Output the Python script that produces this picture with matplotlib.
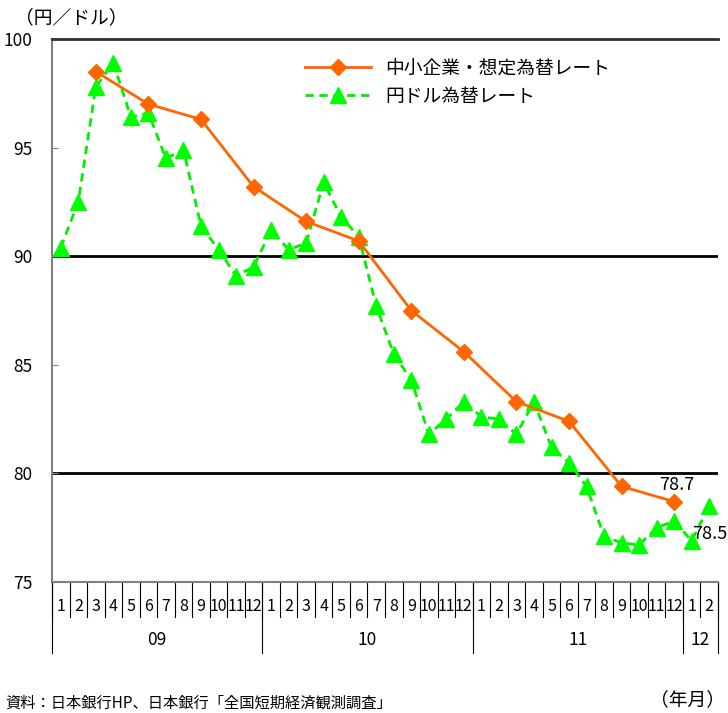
import matplotlib
matplotlib.use("Agg")
import matplotlib.pyplot as plt
import matplotlib.transforms as mtransforms
import numpy as np

plt.rcParams['font.family'] = ['Noto Sans CJK JP', 'DejaVu Sans']

# monthly yen/dollar rate, 2009/1 - 2012/2
usdjpy = [90.4, 92.5, 97.8, 98.9, 96.4, 96.6, 94.5, 94.9, 91.4, 90.3, 89.1, 89.5,
          91.2, 90.3, 90.6, 93.4, 91.8, 90.9, 87.7, 85.5, 84.3, 81.8, 82.5, 83.3,
          82.6, 82.5, 81.8, 83.3, 81.2, 80.5, 79.4, 77.1, 76.8, 76.7, 77.5, 77.8,
          76.9, 78.5]
# SME assumed rate (Tankan), quarterly survey months
tankan_idx = [2, 5, 8, 11, 14, 17, 20, 23, 26, 29, 32, 35]
tankan = [98.5, 97.0, 96.3, 93.2, 91.6, 90.7, 87.5, 85.6, 83.3, 82.4, 79.4, 78.7]

months = [str(m) for m in range(1, 13)] * 3 + ['1', '2']
years = ['09', '10', '11', '12']
year_start = [0, 12, 24, 36]
year_end = [12, 24, 36, 38]

n = len(usdjpy)
x = np.arange(n)

fig = plt.figure(figsize=(7.28, 7.13), dpi=100)
ax = fig.add_axes([52/728, 1 - 582/713, 666/728, 543/713])

ax.axhline(90, color='black', lw=2, zorder=1)
ax.axhline(80, color='black', lw=2, zorder=1)

ax.plot(tankan_idx, tankan, color='#FF6600', lw=2, marker='D', markersize=8,
        label='中小企業・想定為替レート', zorder=3)
ax.plot(x, usdjpy, color='#00EE00', lw=2, ls=(0, (3, 2)), marker='^',
        markersize=11, markerfacecolor='#00FF00', markeredgecolor='#00FF00',
        label='円ドル為替レート', zorder=2)

ax.set_xlim(-0.5, n - 0.5)
ax.set_ylim(75, 100)
ax.set_yticks([75, 80, 85, 90, 95, 100])
ax.tick_params(axis='y', direction='in', length=4, pad=14, labelsize=12.5,
               color='#808080')
ax.set_xticks([])

for s in ['left', 'bottom']:
    ax.spines[s].set_color('#808080')
    ax.spines[s].set_linewidth(1.5)
ax.spines['top'].set_color('#303030')
ax.spines['top'].set_linewidth(2)
ax.spines['right'].set_visible(False)

# month / year category labels
trans = mtransforms.blended_transform_factory(ax.transData, ax.transAxes)
for i in range(n + 1):
    ax.plot([i - 0.5, i - 0.5], [0, -0.0645], transform=trans, color='black',
            lw=0.8, clip_on=False)
for i, m in enumerate(months):
    ax.text(i, -0.046, m, transform=trans, ha='center', va='center',
            fontsize=11.5)
for ys, ye, lab in zip(year_start, year_end, years):
    ax.plot([ys - 0.5, ys - 0.5], [0, -0.131], transform=trans, color='black',
            lw=0.8, clip_on=False)
    ax.text((ys + ye - 1) / 2, -0.107, lab, transform=trans, ha='center',
            va='center', fontsize=12.5)
ax.plot([n - 0.5, n - 0.5], [0, -0.131], transform=trans, color='black',
        lw=0.8, clip_on=False)

# value labels
ax.annotate('78.7', (tankan_idx[-1], tankan[-1]), xytext=(2, 12),
            textcoords='offset points', ha='center', va='center', fontsize=13)
ax.annotate('78.5', (n - 1, usdjpy[-1]), xytext=(-12, -20),
            textcoords='offset points', ha='left', va='center', fontsize=13,
            annotation_clip=False)

ax.legend(loc='upper left', bbox_to_anchor=(0.36, 0.99), frameon=False,
          fontsize=13.5, handlelength=3.5, borderaxespad=0.3, labelspacing=0.4)

fig.text(15/728, 1 - 18/713, '（円／ドル）', fontsize=13.5, va='center')
fig.text(725/728, 1 - 700/713, '（年月）', fontsize=13.5, va='center', ha='right')
fig.text(5/728, 1 - 703/713, '資料：日本銀行HP、日本銀行「全国短期経済観測調査」',
         fontsize=11, va='center')

fig.savefig('out.png', dpi=100)
